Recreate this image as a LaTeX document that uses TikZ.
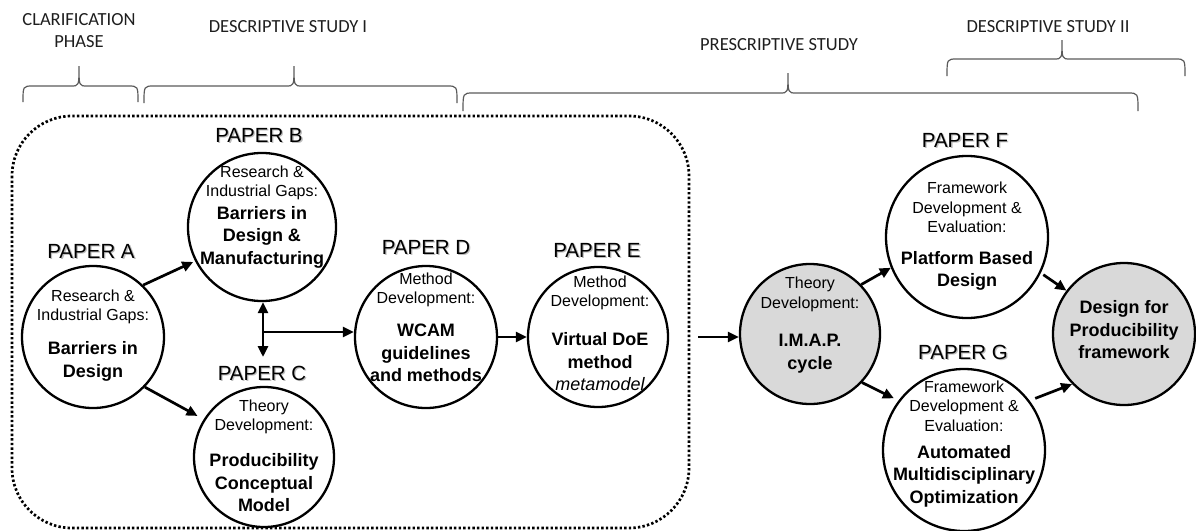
\documentclass[tikz,border=0pt]{standalone}
\usepackage{fontspec}
\setmainfont{Liberation Sans}
\newfontfamily\phasefont{Carlito}
\usetikzlibrary{arrows.meta,calc}
\definecolor{hubgray}{HTML}{D9D9D9}
\definecolor{bracegray}{HTML}{5A5A5A}
\definecolor{phasetext}{HTML}{1E1E1E}
\definecolor{tagshadow}{HTML}{BDBDBD}

% curly phase bracket: left x, right x, tip x, end y, flat y, tip y
\newcommand\phasebrace[6]{%
  \draw[bracket] (#1,#4) .. controls (#1,#5) .. (#1+10,#5) -- (#3-8,#5)
    .. controls (#3,#5) .. (#3,#6) .. controls (#3,#5) .. (#3+8,#5)
    -- (#2-10,#5) .. controls (#2,#5) .. (#2,#4);}

% paper tag with a soft drop shadow
\newcommand\papertag[3]{%
  \node[tag,text=tagshadow] (#1s) at ($(#2)+(1.3,1.3)$) {#3};
  \node[tag] (#1) at (#2) {#3};}

\begin{document}
\begin{tikzpicture}[x=1pt,y=-1pt,
  paper/.style={circle,draw=black,line width=2.3pt,inner sep=0pt,fill=white},
  hub/.style={paper,fill=hubgray},
  tip/.style={},
  conn/.style={line width=2.7pt,-{Triangle[length=11pt,width=10pt]}},
  biconn/.style={line width=2.7pt,{Triangle[length=11pt,width=10pt]}-{Triangle[length=11pt,width=10pt]}},
  reg/.style={align=center,font=\fontsize{16}{19.5}\selectfont,inner sep=0pt},
  bld/.style={align=center,font=\fontsize{18}{22.5}\selectfont\bfseries,inner sep=0pt},
  tag/.style={font=\fontsize{20.5}{24}\selectfont,inner sep=0pt},
  phase/.style={font=\phasefont\fontsize{18.5}{22}\selectfont,text=phasetext,align=center,inner sep=0pt,anchor=north},
  bracket/.style={draw=bracegray,line width=1.2pt},
  stage/.style={draw=black,line width=2.7pt,dash pattern=on 2.4pt off 2.2pt,rounded corners=60pt},
]
\useasboundingbox (0,0) rectangle (1196,530);

% ---- research phases ----
\node[phase] (clar) at (79,13.5) {CLARIFICATION\\PHASE};
\node[phase] (ds1) at (288,20.5) {DESCRIPTIVE STUDY I};
\node[phase] (ps) at (779,38.5) {PRESCRIPTIVE STUDY};
\node[phase] (ds2) at (1048,20.5) {DESCRIPTIVE STUDY II};
\phasebrace{23}{138}{79}{102}{86}{66}
\phasebrace{144}{457}{294}{103}{86}{66}
\phasebrace{463}{1138}{788}{111}{93}{73}
\phasebrace{947}{1185}{1062}{76}{59}{40}

% ---- dotted frame around papers A--E ----
\draw[stage] (12,116) rectangle (689,528);

% ---- paper circles ----
\node[paper,minimum size=142pt] (A) at (93,337) {};
\node[paper,minimum size=148pt] (B) at (262,227) {};
\node[paper,minimum size=140pt] (C) at (264,457) {};
\node[paper,minimum size=142pt] (D) at (426,337) {};
\node[paper,minimum size=140pt] (E) at (598,337) {};
\node[hub,minimum size=140pt] (I) at (810,334) {};
\node[paper,minimum size=162pt] (F) at (967,237) {};
\node[paper,minimum size=162pt] (G) at (964,450) {};
\node[hub,minimum size=142pt] (P) at (1124,334) {};

% ---- circle texts ----
\node[reg] (Ar) at (93,307) {Research \&\\Industrial Gaps:};
\node[bld] (Ab) at (93,361.5) {Barriers in\\Design};
\node[reg] (Br) at (262,183) {Research \&\\Industrial Gaps:};
\node[bld] (Bb) at (262,237) {Barriers in\\Design \&\\Manufacturing};
\node[reg] (Cr) at (264,417) {Theory\\Development:};
\node[bld] (Cb) at (264,483) {Producibility\\Conceptual\\Model};
\node[reg] (Dr) at (426,290) {Method\\Development:};
\node[bld] (Db) at (426,353) {WCAM\\guidelines\\and methods};
\node[reg] (Er) at (600,293) {Method\\Development:};
\node[bld] (Eb) at (600,362) {Virtual DoE\\method\\{\mdseries\itshape metamodel}};
\node[reg] (Ir) at (810,294.5) {Theory\\Development:};
\node[bld] (Ib) at (810,353.5) {I.M.A.P.\\cycle};
\node[reg] (Fr) at (967,207.5) {Framework\\Development \&\\Evaluation:};
\node[bld] (Fb) at (967,271) {Platform Based\\Design};
\node[reg] (Gr) at (964,406) {Framework\\Development \&\\Evaluation:};
\node[bld] (Gb) at (964,476) {Automated\\Multidisciplinary\\Optimization};
\node[bld] (Pb) at (1124,330) {Design for\\Producibility\\framework};

% ---- paper tags ----
\papertag{tA}{91,251}{PAPER A}
\papertag{tB}{259,135}{PAPER B}
\papertag{tC}{262,373}{PAPER C}
\papertag{tD}{426,247}{PAPER D}
\papertag{tE}{597,250}{PAPER E}
\papertag{tF}{965,140}{PAPER F}
\papertag{tG}{963,352}{PAPER G}

% ---- connectors ----
\coordinate (bcend) at (263,357);
\coordinate (bcmid) at (263,332);
\draw[conn,shorten >=2pt] (A.46) -- (B.207);
\draw[conn,shorten >=7pt] (A.316) -- (C.148);
\draw[biconn] (B.south -| bcend) -- (bcend);
\draw[conn] (bcmid) -- (bcmid -| D.west);
\draw[conn] (D.east) -- (D.east -| E.west);
\draw[conn,shorten <=29pt] (E.east) -- (E.east -| I.west);
\draw[conn] (I.44) -- (F.202);
\draw[conn,shorten >=5pt] (I.317) -- (G.143);
\draw[conn,shorten <=3pt] (F.334) -- (P.143);
\draw[conn,shorten <=6pt] (G.37) -- (P.224);
\end{tikzpicture}
\end{document}
